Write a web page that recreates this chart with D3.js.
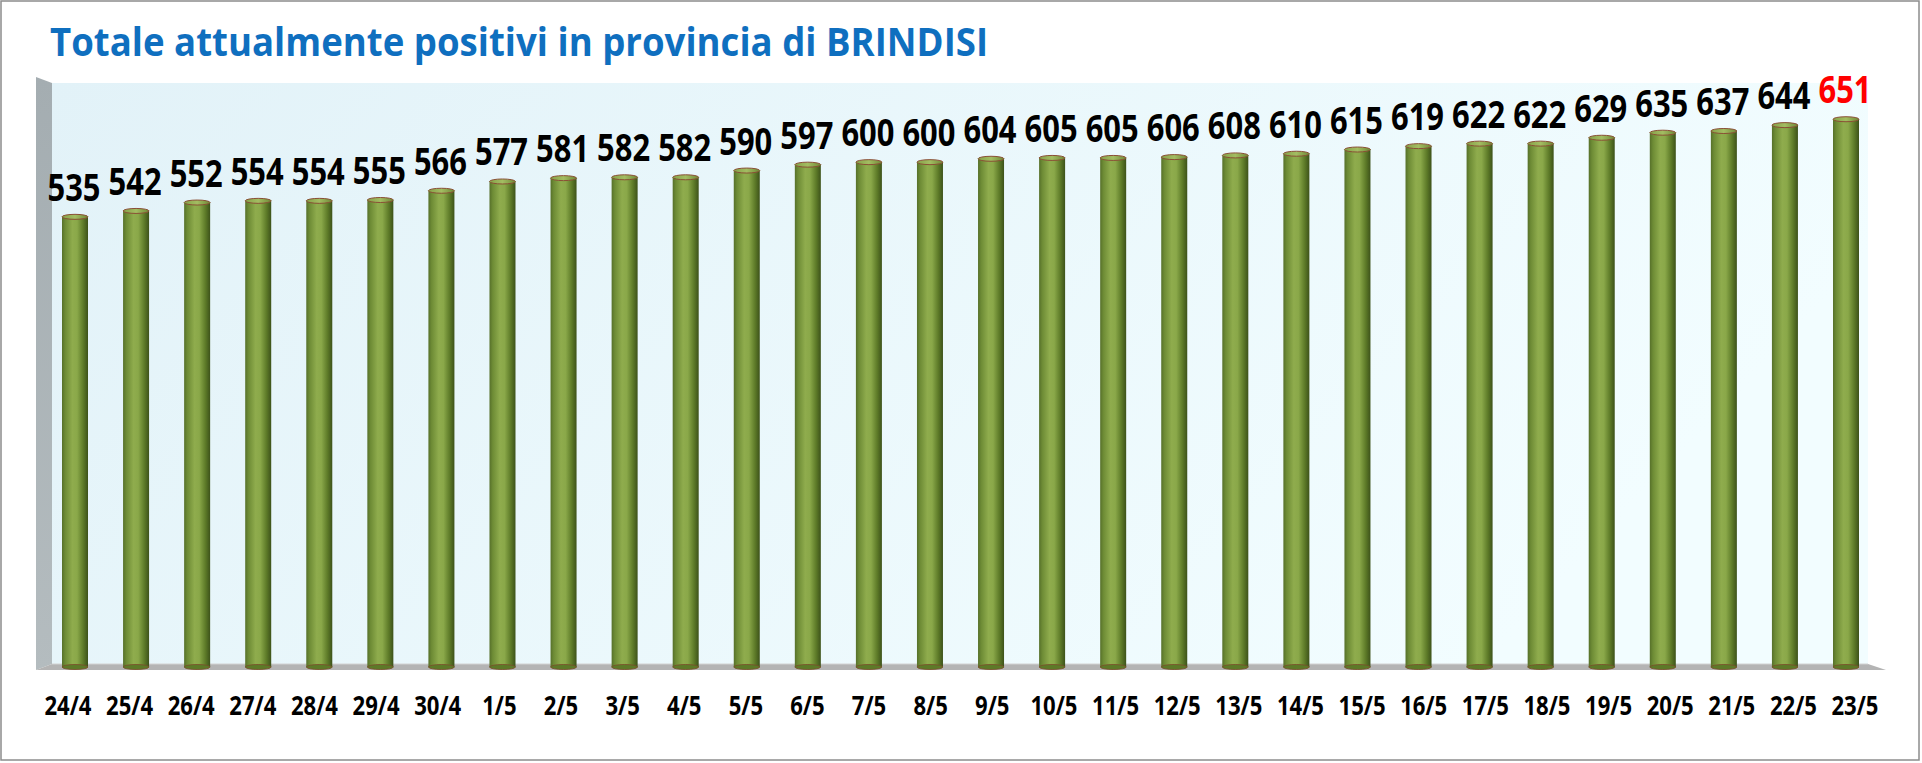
<!DOCTYPE html>
<html>
<head>
<meta charset="utf-8">
<script src="https://cdn.jsdelivr.net/npm/d3@7"></script>
<style>
  html, body { margin: 0; padding: 0; background: #fff; }
  svg { display: block; }
</style>
</head>
<body>
<div id="chart"></div>
<script>
let width = 1922;
let height = 763;

////////////////////////////////
//   Data
////////////////////////////////
let titleText = "Totale attualmente positivi in provincia di BRINDISI";
let dates = ["24/4","25/4","26/4","27/4","28/4","29/4","30/4",
  "1/5","2/5","3/5","4/5","5/5","6/5","7/5","8/5","9/5","10/5","11/5","12/5",
  "13/5","14/5","15/5","16/5","17/5","18/5","19/5","20/5","21/5","22/5","23/5"];
let positivi = [535,542,552,554,554,555,566,577,581,582,582,590,597,600,600,
  604,605,605,606,608,610,615,619,622,622,629,635,637,644,651];
let yDomain = [0, 700];

let data = dates.map((d, i) => ({date: d, value: positivi[i]}));

/////////////////////////////
//   Setup Chart Elements
/////////////////////////////
let svg = d3.select("#chart")
  .append("svg")
  .attr("width", width)
  .attr("height", height);

let defs = svg.append("defs");

let wallGrad = defs.append("linearGradient").attr("id", "wall")
  .attr("x1", "0%").attr("y1", "0%").attr("x2", "100%").attr("y2", "30%");
wallGrad.append("stop").attr("offset", "0%").attr("stop-color", "#e2f2f8");
wallGrad.append("stop").attr("offset", "100%").attr("stop-color", "#f2fdff");

let sideGrad = defs.append("linearGradient").attr("id", "side")
  .attr("x1", "0%").attr("y1", "0%").attr("x2", "0%").attr("y2", "100%");
sideGrad.append("stop").attr("offset", "0%").attr("stop-color", "#a4adb1");
sideGrad.append("stop").attr("offset", "100%").attr("stop-color", "#b4bcbf");

let barGrad = defs.append("linearGradient").attr("id", "cyl")
  .attr("x1", "0%").attr("y1", "0%").attr("x2", "100%").attr("y2", "0%");
[["0%", "#56702a"], ["12%", "#6d8b35"], ["40%", "#8fac4d"], ["58%", "#8aa849"],
 ["82%", "#5d7a28"], ["100%", "#3d521a"]].forEach(s =>
  barGrad.append("stop").attr("offset", s[0]).attr("stop-color", s[1]));

let capGrad = defs.append("linearGradient").attr("id", "cap")
  .attr("x1", "0%").attr("y1", "0%").attr("x2", "100%").attr("y2", "0%");
capGrad.append("stop").attr("offset", "0%").attr("stop-color", "#86a248");
capGrad.append("stop").attr("offset", "50%").attr("stop-color", "#a3bd62");
capGrad.append("stop").attr("offset", "100%").attr("stop-color", "#6f8a36");

// outer frame
svg.append("rect")
  .attr("x", 1).attr("y", 1)
  .attr("width", width - 4).attr("height", height - 4)
  .attr("fill", "#fff")
  .attr("stroke", "#8c8c8c")
  .attr("stroke-width", 1.5);

// scales
let x = d3.scalePoint().domain(dates).range([75, 1846]);
let xLabel = d3.scalePoint().domain(dates).range([68, 1855]);
let y = d3.scaleLinear().domain(yDomain).range([667, 78]);
let barW = 26;

let wallLeft = 52, wallRight = 1868, depth = 16, floorY = 664;
let wallTop = y(yDomain[1]) + 5;

///////////////////////////
//   Walls and floor
///////////////////////////
svg.append("rect")
  .attr("x", wallLeft).attr("y", wallTop)
  .attr("width", wallRight - wallLeft).attr("height", floorY - wallTop)
  .attr("fill", "url(#wall)");

svg.append("path")
  .attr("d", "M" + (wallLeft - depth) + "," + (wallTop - 6) +
    " L" + wallLeft + "," + wallTop +
    " L" + wallLeft + "," + floorY +
    " L" + (wallLeft - depth) + "," + (floorY + 6) + " Z")
  .attr("fill", "url(#side)");

svg.append("path")
  .attr("d", "M" + wallLeft + "," + floorY +
    " L" + wallRight + "," + floorY +
    " L" + (wallRight + 18) + "," + (floorY + 6) +
    " L" + (wallLeft - depth) + "," + (floorY + 6) + " Z")
  .attr("fill", "#b4b4b4");
svg.append("line")
  .attr("x1", wallLeft).attr("x2", wallRight)
  .attr("y1", floorY).attr("y2", floorY)
  .attr("stroke", "#d2d2d2").attr("stroke-width", 1);

///////////////////////////
//   Drawing the Chart
///////////////////////////
let bars = svg.append("g").selectAll("g")
  .data(data)
  .enter()
  .append("g");

bars.append("rect")
  .attr("x", d => x(d.date) - barW / 2)
  .attr("y", d => y(d.value))
  .attr("width", barW)
  .attr("height", d => y(0) - y(d.value))
  .attr("fill", "url(#cyl)");

bars.append("ellipse")
  .attr("cx", d => x(d.date))
  .attr("cy", y(0))
  .attr("rx", barW / 2).attr("ry", 2.5)
  .attr("fill", "#5d7a28")
  .attr("stroke", "#7a4a2a").attr("stroke-width", 0.8);

bars.append("ellipse")
  .attr("cx", d => x(d.date))
  .attr("cy", d => y(d.value))
  .attr("rx", barW / 2).attr("ry", 2.5)
  .attr("fill", "url(#cap)")
  .attr("stroke", "#8a4f35").attr("stroke-width", 1);

// value labels (squeezed to look like the narrow original font)
svg.append("g").selectAll("text")
  .data(data)
  .enter()
  .append("text")
    .attr("x", d => x(d.date) - 1)
    .attr("y", d => y(d.value) - 16)
    .attr("text-anchor", "middle")
    .attr("font-family", "'Open Sans', sans-serif")
    .attr("font-weight", "bold")
    .attr("font-size", "37px")
    .attr("textLength", 53)
    .attr("lengthAdjust", "spacingAndGlyphs")
    .attr("fill", (d, i) => i === data.length - 1 ? "#ff0000" : "#000")
    .text(d => d.value);

// category labels
svg.append("g").selectAll("text")
  .data(dates)
  .enter()
  .append("text")
    .attr("x", d => xLabel(d))
    .attr("y", 715)
    .attr("text-anchor", "middle")
    .attr("font-family", "'Open Sans', sans-serif")
    .attr("font-weight", "bold")
    .attr("font-size", "26px")
    .attr("fill", "#000")
    .text(d => d)
    .each(function() {
      let w = this.getComputedTextLength();
      d3.select(this).attr("textLength", (w * 0.85).toFixed(1))
        .attr("lengthAdjust", "spacingAndGlyphs");
    });

////////////////////
//   Title
////////////////////
svg.append("text")
  .attr("x", 50)
  .attr("y", 56)
  .attr("font-family", "'Open Sans', sans-serif")
  .attr("font-weight", "bold")
  .attr("font-size", "40px")
  .attr("textLength", 938)
  .attr("lengthAdjust", "spacingAndGlyphs")
  .attr("fill", "#0f6fbf")
  .text(titleText);
</script>
</body>
</html>
